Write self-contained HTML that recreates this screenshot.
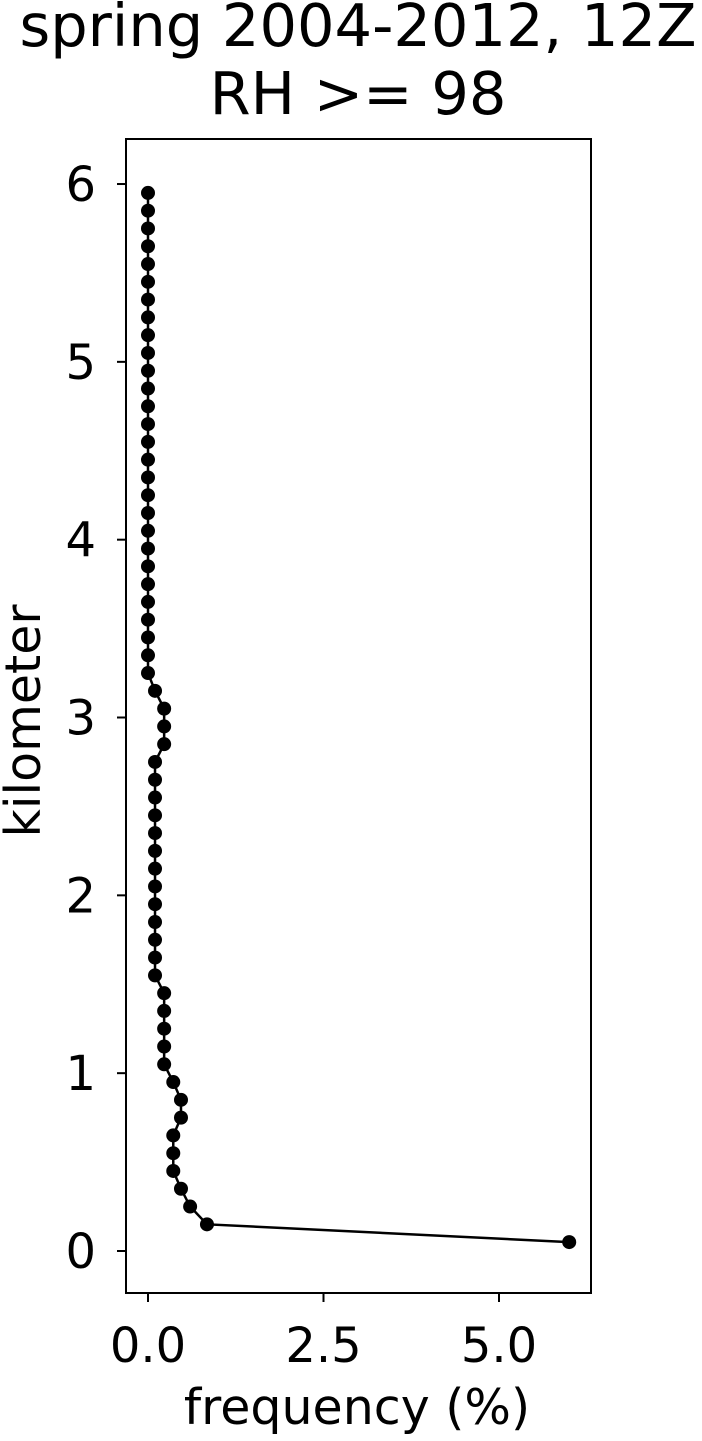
<!DOCTYPE html>
<html><head><meta charset="utf-8"><style>
body{margin:0;background:#fff;}
svg text{font-family:"DejaVu Sans","Liberation Sans",sans-serif;fill:#000;}
</style></head><body>
<svg id="chart" width="702" height="1436" viewBox="0 0 702 1436">
<text x="358" y="46" font-size="59" text-anchor="middle">spring 2004-2012, 12Z</text>
<text x="358" y="114" font-size="59" text-anchor="middle">RH &gt;= 98</text>
<rect x="126" y="139" width="465" height="1154" fill="none" stroke="#000" stroke-width="2"/>
<g id="xticks"></g>
<g id="yticks"></g>
<text x="357" y="1424" font-size="49" text-anchor="middle">frequency (%)</text>
<text transform="translate(40,721) rotate(-90)" font-size="49" text-anchor="middle">kilometer</text>
<g id="series"></g>
</svg>
<script>
const heights=[0.05,0.15,0.25,0.35,0.45,0.55,0.65,0.75,0.85,0.95,1.05,1.15,1.25,1.35,1.45,1.55,1.65,1.75,1.85,1.95,2.05,2.15,2.25,2.35,2.45,2.55,2.65,2.75,2.85,2.95,3.05,3.15,3.25,3.35,3.45,3.55,3.65,3.75,3.85,3.95,4.05,4.15,4.25,4.35,4.45,4.55,4.65,4.75,4.85,4.95,5.05,5.15,5.25,5.35,5.45,5.55,5.65,5.75,5.85,5.95];
const freqs=[6.0,0.84,0.6,0.47,0.36,0.36,0.36,0.47,0.47,0.36,0.23,0.23,0.23,0.23,0.23,0.1,0.1,0.1,0.1,0.1,0.1,0.1,0.1,0.1,0.1,0.1,0.1,0.1,0.23,0.23,0.23,0.1,0,0,0,0,0,0,0,0,0,0,0,0,0,0,0,0,0,0,0,0,0,0,0,0,0,0,0,0];
const xTickVals=[0,2.5,5];
const xTickLabels=["0.0","2.5","5.0"];
const yTickVals=[0,1,2,3,4,5,6];
const yTickLabels=["0","1","2","3","4","5","6"];
const NS="http://www.w3.org/2000/svg";
const xs=v=>148+v*70.2;
const ys=v=>1251-v*177.83;
function mk(t,a,p){const e=document.createElementNS(NS,t);for(const k in a)e.setAttribute(k,a[k]);p.appendChild(e);return e;}
const gx=document.getElementById('xticks');
xTickVals.forEach((v,i)=>{
 const l=mk('line',{x1:xs(v),x2:xs(v),y1:1293,y2:1302,stroke:'#000','stroke-width':2},gx);
 
 
 const t=mk('text',{x:xs(v),y:1362,'font-size':48,'text-anchor':'middle'},gx);
 t.textContent=xTickLabels[i];
 
 
});
const gy=document.getElementById('yticks');
yTickVals.forEach((v,i)=>{
 const l=mk('line',{x1:117,x2:126,y1:ys(v),y2:ys(v),stroke:'#000','stroke-width':2},gy);
 
 
 const t=mk('text',{x:96,y:ys(v)+17,'font-size':48,'text-anchor':'end'},gy);
 t.textContent=yTickLabels[i];
 
 
});
const gs=document.getElementById('series');
const pl=mk('polyline',{points:heights.map((h,i)=>xs(freqs[i])+','+ys(h)).join(' '),fill:'none',stroke:'#000','stroke-width':2.5},gs);


heights.forEach((h,i)=>{
 const c=mk('circle',{cx:xs(freqs[i]),cy:ys(h),r:7,fill:'#000'},gs);
 
 
});
</script>
</body></html>
